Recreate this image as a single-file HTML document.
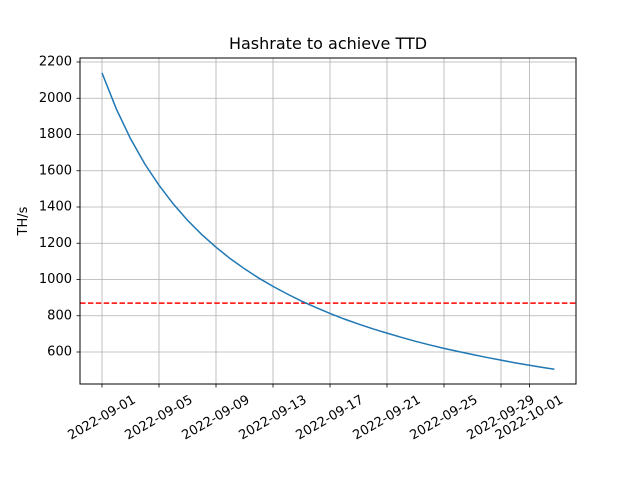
<!DOCTYPE html>
<html><head><meta charset="utf-8"><style>body{margin:0;background:#fff}svg{display:block}text{font-family:"DejaVu Sans","Liberation Sans",sans-serif;fill:#000}</style></head>
<body>
<svg id="chart" width="640" height="480" viewBox="0 0 640 480" xmlns="http://www.w3.org/2000/svg">
<rect width="640" height="480" fill="#fff"/>
<text x="328" y="49" text-anchor="middle" font-size="16">Hashrate to achieve TTD</text>
<text transform="translate(27,221) rotate(-90)" text-anchor="middle" font-size="13">TH/s</text>
<g id="grid"></g><g id="series"></g><g id="ticks"></g>
<rect x="80" y="58" width="496" height="326" fill="none" stroke="#000" stroke-width="1"/>
</svg>
<script>
const dayOffsets=[0,1,2,3,4,5,6,7,8,9,10,11,12,13,14,15,16,17,18,19,20,21,22,23,24,25,26,27,28,29,30,31,31.75];
const hashrate=[2140,1942,1777,1638,1520,1417,1327,1248,1178,1115,1059,1008,962,920,881,846,813,782,754,728,704,681,659,639,620,603,586,570,555,540,527,514,505];
const targetHashrate=[870];
const xTickDays=[0,4,8,12,16,20,24,28,30];
const xTickLabels=["2022-09-01","2022-09-05","2022-09-09","2022-09-13","2022-09-17","2022-09-21","2022-09-25","2022-09-29","2022-10-01"];
const yTicks=[600,800,1000,1200,1400,1600,1800,2000,2200];
const X=d=>102+d*14.25, Y=v=>62+(2200-v)*0.18125;
const NS="http://www.w3.org/2000/svg";
function mk(t,a,p){const e=document.createElementNS(NS,t);for(const k in a)e.setAttribute(k,a[k]);p.appendChild(e);return e;}
const g=document.getElementById('grid'),s=document.getElementById('series'),tk=document.getElementById('ticks');
xTickDays.forEach((d,i)=>{const x=X(d);
 const l=mk('line',{x1:x,x2:x,y1:58,y2:384,stroke:'#b0b0b0','stroke-width':0.8},g);
 
 const t=mk('line',{x1:x,x2:x,y1:384,y2:387.5,stroke:'#000','stroke-width':0.8},tk);
 
 const tx=mk('text',{transform:`translate(${x},418) rotate(-30)`,'text-anchor':'middle','dominant-baseline':'central','font-size':13},tk);
 tx.textContent=xTickLabels[i];
 });
yTicks.forEach(v=>{const y=Y(v);
 const l=mk('line',{x1:80,x2:576,y1:y,y2:y,stroke:'#b0b0b0','stroke-width':0.8},g);
 
 const t=mk('line',{x1:76.5,x2:80,y1:y,y2:y,stroke:'#000','stroke-width':0.8},tk);
 
 const tx=mk('text',{x:72,y:y,'text-anchor':'end','dominant-baseline':'central','font-size':13},tk);
 tx.textContent=v;
 });
const ty=Y(targetHashrate[0]);
const r=mk('line',{x1:80,x2:576,y1:ty,y2:ty,stroke:'#ff0000','stroke-width':1.5,'stroke-dasharray':'5.5,2.4'},s);

const p=mk('polyline',{points:dayOffsets.map((d,i)=>X(d)+','+Y(hashrate[i])).join(' '),fill:'none',stroke:'#1f77b4','stroke-width':1.5},s);

</script>
</body></html>
